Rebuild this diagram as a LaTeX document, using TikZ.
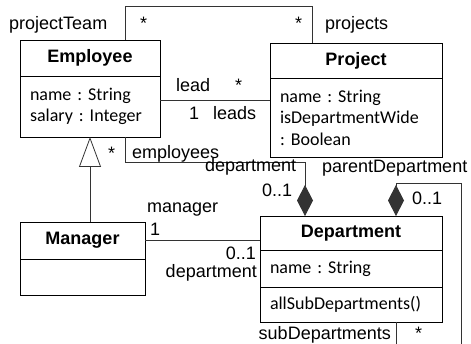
\documentclass[tikz,border=0pt]{standalone}
\usepackage{fontspec}
\setmainfont{Liberation Sans}
\newfontfamily\attrfont{Carlito}
\usetikzlibrary{positioning,arrows.meta}
\frenchspacing

\tikzset{
  classhead/.style={draw, line width=0.8pt, anchor=north west, inner sep=0pt, outer sep=0pt,
    font=\fontsize{18}{21}\selectfont\bfseries},
  classpart/.style={draw, line width=0.8pt, below=0pt of #1, inner xsep=10pt, inner ysep=0pt,
    outer sep=0pt, align=left, font=\fontsize{18}{21.5}\selectfont\attrfont},
  role/.style={inner sep=0pt, font=\fontsize{18}{21}\selectfont},
  assoc/.style={draw=black!80, line width=0.8pt},
  compo/.style={assoc, -{Diamond[length=31pt,width=16pt]}},
  inherit/.style={assoc, -{Triangle[open,length=30pt,width=22pt]}},
}

\begin{document}
\begin{tikzpicture}[x=1pt,y=-1pt]
    \useasboundingbox (0,0) rectangle (471,344);
    \clip (0,0) rectangle (471,344);
    %% classes
    \node[classhead, minimum width=140pt, minimum height=36pt] (emph) at (20,40) {Employee};
    \node[classpart=emph, text width=120pt, minimum height=61pt] (empb) {name : String\\salary : Integer};
    \node[classhead, minimum width=172pt, minimum height=35pt] (proh) at (270,43) {Project};
    \node[classpart=proh, text width=152pt, minimum height=79pt] (prob) {name : String\\isDepartmentWide\\: Boolean};
    \node[classhead, minimum width=125pt, minimum height=37pt] (manh) at (20,222) {Manager};
    \node[classpart=manh, text width=105pt, minimum height=36pt] (manb) {};
    \node[classhead, minimum width=182pt, minimum height=34pt] (deph) at (260,216) {Department};
    \node[classpart=deph, text width=162pt, minimum height=37pt] (depa) {name : String};
    \node[classpart=depa, text width=162pt, minimum height=35pt] (depo) {allSubDepartments()};
    %% associations
    \draw[assoc] ([xshift=35pt]emph.north) -- ++(0,-34) -| ([xshift=-44pt]proh.north);
    \draw[assoc] ([yshift=6.5pt]empb.east) -- ([yshift=6.5pt]empb.east -| proh.west);
    \draw[assoc] (manh.east) -- (manh.east -| deph.west);
    \draw[compo] ([xshift=35pt]empb.south) -- ++(0,25) -| ([xshift=-46pt]deph.north);
    \draw[compo] ([xshift=45pt]depo.south) -- ++(0,30) -| ([xshift=110pt,yshift=33pt]deph.north)
        -- ([xshift=45pt,yshift=33pt]deph.north) -- ([xshift=45pt]deph.north);
    %% generalization
    \draw[inherit] (manh.north -| empb.south) -- (empb.south);
    %% role names and multiplicities
    \node[role, anchor=base west] (rteam) at (9,30) {projectTeam};
    \node[role, anchor=base west] (mteam) at (140,30) {*};
    \node[role, anchor=base west] (mproj) at (295,30) {*};
    \node[role, anchor=base west] (rproj) at (325,30) {projects};
    \node[role, anchor=base west] (rlead) at (176,92) {lead};
    \node[role, anchor=base west] (mlead) at (235,92) {*};
    \node[role, anchor=base west] (mleads) at (189,120) {1};
    \node[role, anchor=base west] (rleads) at (213,120) {leads};
    \node[role, anchor=base west] (memp) at (108,160) {*};
    \node[role, anchor=base west] (remp) at (132,159) {employees};
    \node[role, anchor=base west] (rdep) at (205,172) {department};
    \node[role, anchor=base west] (mdep) at (262,197) {0..1};
    \node[role, anchor=base west] (rparent) at (322,173) {parentDepartment};
    \node[role, anchor=base west] (mparent) at (412,205) {0..1};
    \node[role, anchor=base west] (rman) at (147,213) {manager};
    \node[role, anchor=base west] (mman) at (150,236) {1};
    \node[role, anchor=base east] (mmandep) at (256,260) {0..1};
    \node[role, anchor=base east] (rmandep) at (257,278) {department};
    \node[role, anchor=base east] (rsub) at (391,340) {subDepartments};
    \node[role, anchor=base west] (msub) at (415,340) {*};
\end{tikzpicture}
\end{document}
